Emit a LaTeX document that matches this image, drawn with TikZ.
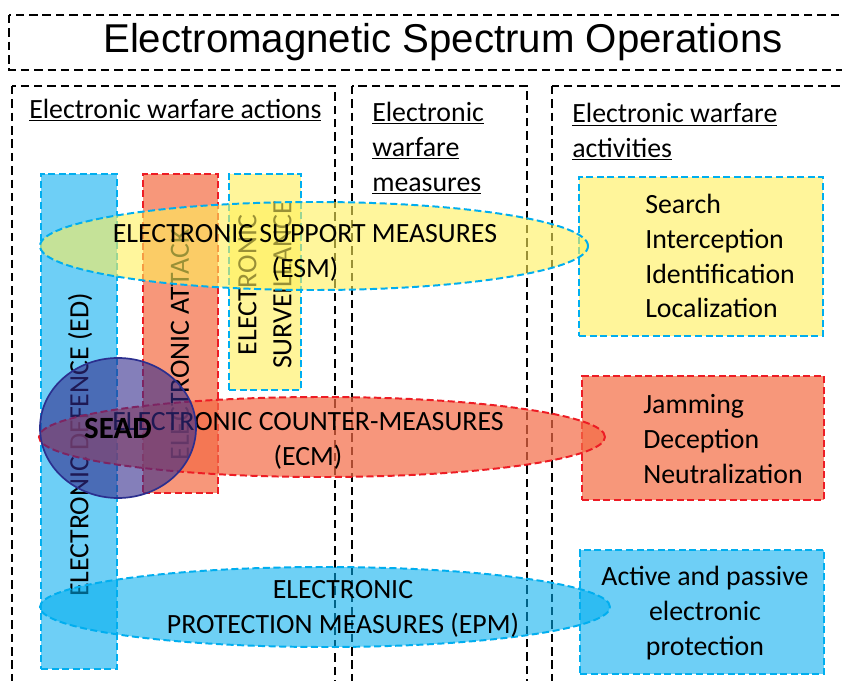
\documentclass[tikz,border=0pt]{standalone}
\usepackage{fontspec}
\setmainfont{Carlito}
\newfontfamily\arialfont{Liberation Sans}
\usetikzlibrary{shapes.geometric, positioning}
\definecolor{edblue}{HTML}{6ECFF6}
\definecolor{edcyan}{HTML}{00AEEF}
\definecolor{easalmon}{HTML}{F7977A}
\definecolor{eared}{HTML}{ED1C24}
\definecolor{esyellow}{HTML}{FFF59A}
\definecolor{esmyellow}{HTML}{FFF05A}
\definecolor{ecmred}{HTML}{F46A45}
\definecolor{seadnavy}{HTML}{332A8C}
\definecolor{seadline}{HTML}{2B2F8F}
\newcommand{\pxu}{0.025cm}
\newcommand{\ewfont}{\fontsize{19.8}{24.8}\selectfont}
\tikzset{
  ColumnBox/.style = {draw=black, line width=1.1pt, dash pattern=on 6pt off 3.5pt},
  ColourBox/.style = {
      line width=1.4pt,
      dash pattern=on 5pt off 2.5pt,
      inner sep=0pt,
      anchor=north west,
  },
  BlueBox/.style   = {ColourBox, fill=edblue, draw=edcyan},
  RedBox/.style    = {ColourBox, fill=easalmon, draw=eared},
  YellowBox/.style = {ColourBox, fill=esyellow, draw=edcyan},
  BarLabel/.style  = {rotate=90, font=\ewfont, align=center, inner sep=0pt},
  Heading/.style   = {font=\ewfont, align=left, inner sep=0pt, anchor=west},
  ListText/.style  = {font=\ewfont, inner sep=0pt},
  MeasureEllipse/.style = {
      ellipse,
      inner sep=0pt,
      line width=1.4pt,
      dash pattern=on 5pt off 2.5pt,
  },
}

\begin{document}
\begin{tikzpicture}[x=\pxu, y=-\pxu]
\clip (0,0) rectangle (842,681);
\fill[white] (0,0) rectangle (842,681);

% Titel
\draw[ColumnBox] (9,15) rectangle (870,70);
\node[font=\arialfont\fontsize{28.6}{34}\selectfont] (title) at (443,42) {Electromagnetic Spectrum Operations};

% drei Spalten
\draw[ColumnBox] (12,86) rectangle (335,720);
\draw[ColumnBox] (352,86) rectangle (527,720);
\draw[ColumnBox] (552,86) rectangle (870,720);

\node[Heading] (actionshead) at (29,110) {\underline{Electronic warfare actions}};
\node[Heading] (measureshead) at (372,148) {\underline{Electronic}\\\underline{warfare}\\\underline{measures}};
\node[Heading] (activitieshead) at (572,132) {\underline{Electronic warfare}\\\underline{activities}};

% senkrechte Balken (Aktionen)
\node[BlueBox, minimum width=76*\pxu, minimum height=495*\pxu] (edbar) at (40,173) {};
\node[BarLabel] (edlabel) at (80,445) {ELECTRONIC DEFENCE (ED)};
\node[RedBox, minimum width=75*\pxu, minimum height=319*\pxu] (eabar) at (142,173) {};
\node[BarLabel] (ealabel) at (180,345) {ELECTRONIC ATTACK};
\node[YellowBox, minimum width=72*\pxu, minimum height=216*\pxu] (esbar) at (228,173) {};
\node[BarLabel] (eslabel) at (265,285) {ELECTRONIC\\SURVEILLANCE};

% Aktivitaeten rechts
\node[YellowBox, minimum width=244*\pxu, minimum height=159*\pxu] (esmbox) at (578,176) {};
\node[ListText, align=left, anchor=west] (esmlist) at (645,256) {Search\\Interception\\Identification\\Localization};
\node[RedBox, minimum width=242*\pxu, minimum height=124*\pxu] (ecmbox) at (581,375) {};
\node[ListText, align=left, anchor=west] (ecmlist) at (643,439) {Jamming\\Deception\\Neutralization};
\node[BlueBox, minimum width=244*\pxu, minimum height=124*\pxu] (epmbox) at (579,549) {};
\node[ListText, align=center] (epmlist) at (705,613) {Active and passive\\electronic\\protection};

% Massnahmen (Ellipsen)
\node[MeasureEllipse, fill=esmyellow, fill opacity=0.6, draw=edcyan,
      minimum width=548*\pxu, minimum height=88*\pxu] (esm) at (314,246) {};
\node[ListText, align=center] (esmtext) at (305,253) {ELECTRONIC SUPPORT MEASURES\\(ESM)};
\node[MeasureEllipse, fill=ecmred, fill opacity=0.7, draw=eared,
      minimum width=566*\pxu, minimum height=80*\pxu] (ecm) at (322,437) {};
\node[ListText, align=center] (ecmtext) at (308,441) {ELECTRONIC COUNTER-MEASURES\\(ECM)};
\node[MeasureEllipse, fill=edcyan, fill opacity=0.57, draw=edcyan,
      minimum width=570*\pxu, minimum height=80*\pxu] (epm) at (325,607) {};
\node[ListText, align=center] (epmtext) at (343,609) {ELECTRONIC\\PROTECTION MEASURES (EPM)};

% SEAD
\node[ellipse, fill=seadnavy, fill opacity=0.6, text opacity=1, draw=seadline, line width=1.2pt,
      minimum width=156*\pxu, minimum height=140*\pxu, inner sep=0pt,
      font=\fontsize{22}{26}\selectfont\bfseries] (sead) at (118,428) {SEAD};

\end{tikzpicture}
\end{document}
